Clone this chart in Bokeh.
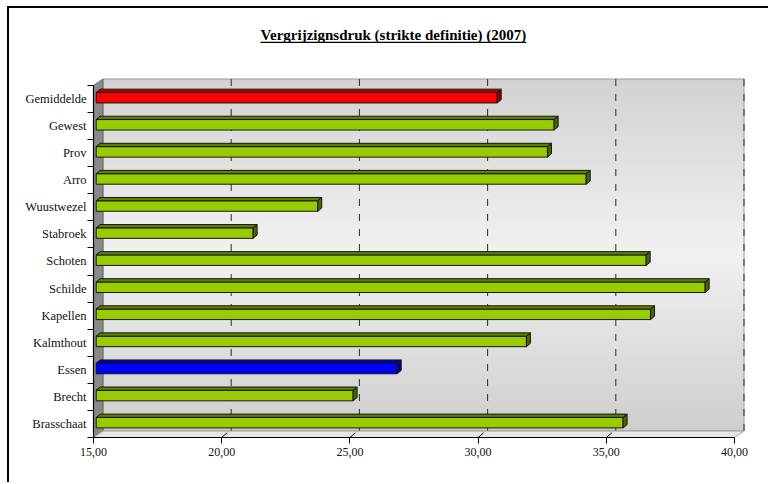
from bokeh.plotting import figure
from bokeh.models import Range1d, FixedTicker, ColumnDataSource
from bokeh.core.properties import value
from bokeh.embed import file_html
from bokeh.resources import INLINE

# ---------------- data ----------------
title_text = "Vergrijzignsdruk (strikte definitie) (2007)"
categories = ["Brasschaat", "Brecht", "Essen", "Kalmthout", "Kapellen", "Schilde",
              "Schoten", "Stabroek", "Wuustwezel", "Arro", "Prov", "Gewest", "Gemiddelde"]
values = [35.55, 25.02, 26.74, 31.78, 36.62, 38.75,
          36.45, 21.12, 23.64, 34.11, 32.60, 32.86, 30.64]
bar_kind = ["green", "green", "blue", "green", "green", "green",
            "green", "green", "green", "green", "green", "green", "red"]
x_ticks = [15, 20, 25, 30, 35, 40]
x_tick_labels = ["15,00", "20,00", "25,00", "30,00", "35,00", "40,00"]
grid_values = [20, 25, 30, 35, 40]

# ---------------- layout / style constants ----------------
FIG_X, FIG_Y = 9, 8          # page offset of the figure (css margin)
W, H = 770 - FIG_X, 484 - FIG_Y
PX0, PY0 = 93, 437           # page position of value 15 / front floor
ML = PX0 - FIG_X
MB = (FIG_Y + H) - PY0
X0, X1 = 15, 40
SX = 25.64          # px per x unit
SY = 27.08          # px per category
frame_w = W - ML
frame_h = H - MB
x_end = X0 + frame_w / SX
y_start = -0.5
y_end = y_start + frame_h / SY


def X(px):
    return X0 + (px - PX0) / SX


def Y(py):
    return y_start + (PY0 - py) / SY


DX = 9.5 / SX
DY = 6.5 / SY
N = len(categories)
YB, YT = -0.5, N - 0.5

p = figure(width=W, height=H, output_backend="svg", toolbar_location=None,
           x_range=Range1d(X0, x_end), y_range=Range1d(y_start, y_end))
p.min_border_left = ML
p.min_border_right = 0
p.min_border_top = 0
p.min_border_bottom = MB
p.outline_line_color = None
p.background_fill_color = "white"
p.border_fill_color = "white"
p.xgrid.visible = False
p.ygrid.visible = False
p.styles = {"margin-left": "%dpx" % FIG_X, "margin-top": "%dpx" % FIG_Y,
            "box-shadow": "-2px -2px 0 0 #000"}

# ---------------- back wall with gradient ----------------
def lerp(a, b, t):
    return int(round(a + (b - a) * t))

strips = 90
wb, wt = YB + DY, YT + DY
sl, sr, sb, st, sc = [], [], [], [], []
step = (wt - wb) / strips
for k in range(strips):
    t = (k + 0.5) / strips  # 0 top -> 1 bottom
    if t < 0.49:
        g = lerp(0xd2, 0xf1, t / 0.49)
    else:
        g = lerp(0xf1, 0xce, (t - 0.49) / 0.51)
    top = wt - step * k
    bot = max(wb, wt - step * (k + 1) - step * 0.6)
    sl.append(X0 + DX); sr.append(X1 + DX); st.append(top); sb.append(bot)
    sc.append("#%02x%02x%02x" % (g, g, g))
p.quad(left=sl, right=sr, top=st, bottom=sb, fill_color=sc, line_color=None)
p.quad(left=[X0 + DX], right=[X1 + DX], top=[wt], bottom=[wb],
       fill_color=None, line_color="#9a9a9a", line_width=1)

# gridlines on back wall
p.segment(x0=[v + DX for v in grid_values], x1=[v + DX for v in grid_values],
          y0=[wb] * len(grid_values), y1=[wt] * len(grid_values),
          line_color="#2a2a2a", line_width=1, line_dash="7 8")

# side wall
p.patch([X0, X0 + DX, X0 + DX, X0], [YB, YB + DY, YT + DY, YT],
        fill_color="#898989", line_color="#6a6a6a", line_width=1)
# floor
p.patch([X0, X1, X1 + DX, X0 + DX], [YB, YB, YB + DY, YB + DY],
        fill_color="#e6e6e6", line_color="#a0a0a0", line_width=1)
p.segment(x0=x_ticks[1:-1], x1=[v + 5.5 / SX for v in x_ticks[1:-1]],
          y0=[YB] * 4, y1=[YB + 4.7 / SY] * 4, line_color="black", line_width=1)

# ---------------- 3D bars ----------------
FX = 2.7 / SX
FY = 1.3 / SY
HH = 5.25 / SY
BX = 4.0 / SX
BY = 3.3 / SY
palette = {
    "green": ("#99cc00", "#5f7f00", "#4a6400"),
    "red": ("#ff0000", "#b00000", "#8b0000"),
    "blue": ("#0000ff", "#0000b0", "#00008b"),
}
xs, ys, fc = [], [], []
for i, (v, kind) in enumerate(zip(values, bar_kind)):
    L, R = X0 + FX, v + FX
    B, T = i + FY - HH, i + FY + HH
    front, topc, side = palette[kind]
    xs.append([L, R, R, L]); ys.append([B, B, T, T]); fc.append(front)
    xs.append([L, R, R + BX, L + BX]); ys.append([T, T, T + BY, T + BY]); fc.append(topc)
    xs.append([R, R + BX, R + BX, R]); ys.append([B, B + BY, T + BY, T]); fc.append(side)
src = ColumnDataSource(dict(xs=xs, ys=ys, fc=fc))
p.patches("xs", "ys", source=src, fill_color="fc", line_color="#151515", line_width=1)

# ---------------- title ----------------
tx, ty = X(392.9), Y(34.5)
p.text(x=[tx], y=[ty], text=[title_text], text_align="center", text_baseline="middle",
       text_font=value("Liberation Serif"), text_font_size="15px",
       text_font_style="bold", text_color="black")
p.segment(x0=[X(392.9 - 133)], x1=[X(392.9 + 133)], y0=[Y(41.8)], y1=[Y(41.8)],
          line_color="black", line_width=1.2)

# ---------------- axes ----------------
xa = p.xaxis[0]
xa.ticker = FixedTicker(ticks=x_ticks)
xa.major_label_overrides = {t: lab for t, lab in zip(x_ticks, x_tick_labels)}
xa.bounds = (X0, X1)
xa.major_tick_out = 6
xa.major_tick_in = 0
xa.minor_tick_line_color = None
xa.major_label_standoff = 4
xa.axis_line_color = "black"
xa.axis_line_width = 1.2
xa.major_tick_line_color = "black"
xa.major_label_text_font = "Liberation Serif"
xa.major_label_text_font_size = "12px"
xa.major_label_text_color = "#111111"

ya = p.yaxis[0]
ya.ticker = FixedTicker(ticks=list(range(N)), minor_ticks=[k - 0.5 for k in range(N + 1)])
ya.major_label_overrides = {k: c for k, c in enumerate(categories)}
ya.bounds = (YB, YT)
ya.major_tick_line_color = None
ya.major_tick_out = 0
ya.major_tick_in = 0
ya.minor_tick_out = 6
ya.minor_tick_in = 0
ya.minor_tick_line_color = "black"
ya.major_label_standoff = 1
ya.axis_line_color = "black"
ya.axis_line_width = 1.2
ya.major_label_text_font = "Liberation Serif"
ya.major_label_text_font_size = "12.5px"
ya.major_label_text_color = "#111111"

open("out.html", "w").write(file_html(p, INLINE))
